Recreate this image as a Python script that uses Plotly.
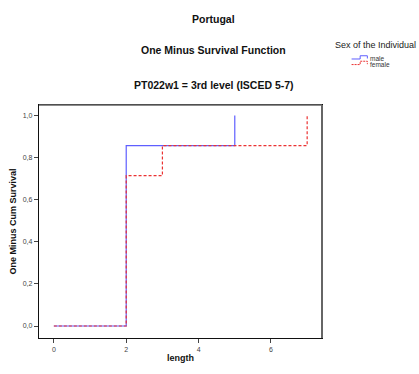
import plotly.graph_objects as go

# Kaplan-Meier style "one minus survival" steps by sex
male_length = [0, 2, 5]
male_cum = [0.0, 0.857, 1.0]
female_length = [0, 2, 3, 7]
female_cum = [0.0, 0.714, 0.857, 1.0]

x_ticks = [0, 2, 4, 6]
y_ticks = [0.0, 0.2, 0.4, 0.6, 0.8, 1.0]
y_tick_text = [f"{v:.1f}".replace(".", ",") for v in y_ticks]

FONT = "Liberation Sans, Arial, sans-serif"
MALE_COLOR = "rgb(95,95,255)"
FEMALE_COLOR = "rgb(235,50,50)"
FEMALE_DASH = "3px,2px"

W, H = 419, 374
PL, PR, PT, PB = 35, 322, 105, 343  # plot area in pixels


def fx(px):
    return (px - PL) / (PR - PL)


def fy(py):
    return (PB - py) / (PB - PT)


fig = go.Figure()
fig.add_trace(go.Scatter(
    x=male_length, y=male_cum, mode="lines", name="male",
    line=dict(shape="hv", color=MALE_COLOR, width=1.2),
))
fig.add_trace(go.Scatter(
    x=female_length, y=female_cum, mode="lines", name="female",
    line=dict(shape="hv", color=FEMALE_COLOR, width=1.2, dash=FEMALE_DASH),
))

annotations = [
    dict(text="<b>Portugal</b>", x=fx(212), y=fy(17), size=10.5),
    dict(text="<b>One Minus Survival Function</b>", x=fx(212), y=fy(49), size=10.5),
    dict(text="<b>PT022w1 = 3rd level (ISCED 5-7)</b>", x=fx(212), y=fy(85), size=10.5),
]
ann_list = [
    dict(text=a["text"], x=a["x"], y=a["y"], xref="paper", yref="paper",
         xanchor="center", yanchor="middle", showarrow=False,
         font=dict(size=a["size"], color="#111"))
    for a in annotations
]

# Legend block: title, step-shaped glyphs and labels
ann_list.append(dict(text="Sex of the Individual", x=fx(333), y=fy(44), xref="paper", yref="paper",
                     xanchor="left", yanchor="middle", showarrow=False,
                     font=dict(size=9, color="#222")))
ann_list.append(dict(text="male", x=fx(369), y=fy(57.5), xref="paper", yref="paper",
                     xanchor="left", yanchor="middle", showarrow=False,
                     font=dict(size=6.5, color="#333")))
ann_list.append(dict(text="female", x=fx(369), y=fy(63.8), xref="paper", yref="paper",
                     xanchor="left", yanchor="middle", showarrow=False,
                     font=dict(size=6.5, color="#333")))


def glyph(y_low, y_high, y_end):
    pts = [(352, y_low), (360.7, y_low), (360.7, y_high), (368, y_high), (368, y_end)]
    return "M " + " L ".join(f"{fx(x):.5f},{fy(y):.5f}" for x, y in pts)


shapes = [
    dict(type="path", xref="paper", yref="paper", path=glyph(58, 54.7, 57.5),
         line=dict(color=MALE_COLOR, width=1)),
    dict(type="path", xref="paper", yref="paper", path=glyph(63.7, 60.3, 63.3),
         line=dict(color=FEMALE_COLOR, width=1, dash="2px,1px")),
    # heavier gray top/right edges of the frame
    dict(type="line", xref="paper", yref="paper", x0=0, x1=1, y0=1, y1=1,
         line=dict(color="#666", width=1.5)),
    dict(type="line", xref="paper", yref="paper", x0=1, x1=1, y0=0, y1=1,
         line=dict(color="#666", width=2)),
]

fig.update_layout(
    width=W, height=H,
    margin=dict(l=PL, r=W - PR, t=PT, b=H - PB),
    paper_bgcolor="white", plot_bgcolor="white",
    font=dict(family=FONT, color="#333", size=7),
    showlegend=False,
    annotations=ann_list,
    shapes=shapes,
)

fig.update_xaxes(
    range=[-0.41, 7.41], tickvals=x_ticks, ticktext=[str(v) for v in x_ticks],
    showgrid=False, zeroline=False,
    showline=True, mirror=True, linecolor="#111", linewidth=1.3,
    ticks="outside", ticklen=4, tickcolor="#444",
    tickfont=dict(size=7, color="#444"),
    title=dict(text="<b>length</b>", font=dict(size=9, color="#111"), standoff=3),
)
fig.update_yaxes(
    range=[-0.057, 1.05], tickvals=y_ticks, ticktext=y_tick_text,
    showgrid=False, zeroline=False,
    showline=True, mirror=True, linecolor="#111", linewidth=1.3,
    ticks="outside", ticklen=4, tickcolor="#444",
    tickfont=dict(size=7, color="#444"),
    title=dict(text="<b>One Minus Cum Survival</b>", font=dict(size=9, color="#111"), standoff=4),
)

fig.write_html("out.html")
